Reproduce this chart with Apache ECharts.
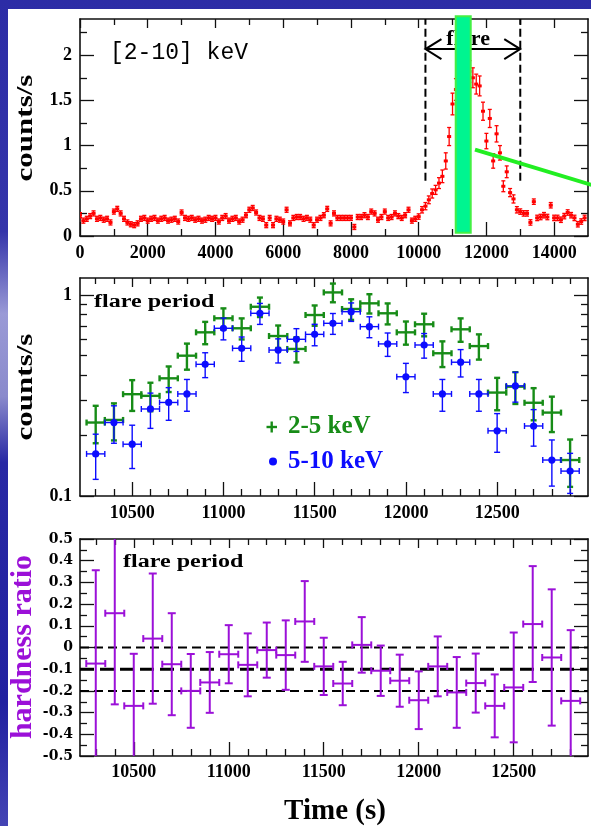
<!DOCTYPE html>
<html><head><meta charset="utf-8">
<script src="https://cdn.jsdelivr.net/npm/echarts@6/dist/echarts.min.js"></script>
<style>
html,body{margin:0;padding:0;background:#fff;}
#wrap{position:relative;width:591px;height:826px;overflow:hidden;
 background:linear-gradient(to bottom,#2c2ca6 0%,#3434aa 28%,#9a9ad6 38%,#8a8acc 48%,#2828a4 56%,#2020a0 85%,#4444b4 100%);}
#white{position:absolute;left:8px;top:9px;right:0;bottom:0;background:#fff;}
#chart{position:absolute;left:0;top:0;width:591px;height:826px;}
</style></head><body>
<div id="wrap"><div id="white"></div><div id="chart"></div></div>
<script>
// ---------------- DATA ----------------
// Panel 1: [2-10] keV light curve (100 s bins)
const lcTime = [
 0,100,200,300,400,500,600,700,800,900,
 1000,1100,1200,1300,1400,1500,1600,1700,1800,1900,
 2000,2100,2200,2300,2400,2500,2600,2700,2800,2900,
 3000,3100,3200,3300,3400,3500,3600,3700,3800,3900,
 4000,4100,4200,4300,4400,4500,4600,4700,4800,4900,
 5000,5100,5200,5300,5400,5500,5600,5700,5800,5900,
 6000,6100,6200,6300,6400,6500,6600,6700,6800,6900,
 7000,7100,7200,7300,7400,7500,7600,7700,7800,7900,
 8000,8100,8200,8300,8400,8500,8600,8700,8800,8900,
 9000,9100,9200,9300,9400,9500,9600,9700,9800,9900,
 10000,10100,10200,10300,10400,10500,10600,10700,10800,10900,
 11000,11100,11200,11300,11400,11500,11600,11700,11800,11900,
 12000,12100,12200,12300,12400,12500,12600,12700,12800,12900,
 13000,13100,13200,13300,13400,13500,13600,13700,13800,13900,
 14000,14100,14200,14300,14400,14500,14600,14700,14800,14900];
const lcRate = [
 0.23,0.17,0.19,0.22,0.25,0.19,0.20,0.18,0.19,0.15,
 0.27,0.30,0.25,0.19,0.15,0.13,0.12,0.14,0.19,0.20,
 0.17,0.19,0.20,0.17,0.19,0.20,0.17,0.18,0.19,0.16,
 0.26,0.20,0.19,0.20,0.18,0.19,0.17,0.18,0.20,0.19,
 0.20,0.16,0.20,0.22,0.17,0.19,0.20,0.16,0.18,0.23,
 0.29,0.31,0.26,0.20,0.19,0.12,0.20,0.12,0.19,0.18,
 0.16,0.29,0.14,0.20,0.21,0.21,0.19,0.20,0.18,0.12,
 0.18,0.20,0.23,0.30,0.14,0.25,0.20,0.20,0.20,0.20,
 0.20,0.10,0.21,0.21,0.23,0.21,0.27,0.25,0.18,0.21,
 0.27,0.20,0.21,0.25,0.22,0.20,0.23,0.29,0.17,0.19,
 0.215,0.29,0.33,0.40,0.47,0.51,0.585,0.66,0.83,1.10,
 1.46,1.62,1.78,1.88,1.90,1.82,1.75,1.68,1.66,1.38,
 1.05,1.30,0.83,1.13,0.92,0.55,0.71,0.48,0.41,0.29,
 0.27,0.25,0.25,0.15,0.38,0.20,0.21,0.23,0.21,0.34,
 0.20,0.20,0.18,0.22,0.26,0.23,0.20,0.13,0.16,0.20];
const lcErr = [
 0.028,0.028,0.028,0.028,0.028,0.028,0.028,0.028,0.028,0.028,
 0.028,0.028,0.028,0.028,0.028,0.028,0.028,0.028,0.028,0.028,
 0.028,0.028,0.028,0.028,0.028,0.028,0.028,0.028,0.028,0.028,
 0.028,0.028,0.028,0.028,0.028,0.028,0.028,0.028,0.028,0.028,
 0.028,0.028,0.028,0.028,0.028,0.028,0.028,0.028,0.028,0.028,
 0.028,0.028,0.028,0.028,0.028,0.028,0.028,0.028,0.028,0.028,
 0.028,0.028,0.028,0.028,0.028,0.028,0.028,0.028,0.028,0.028,
 0.028,0.028,0.028,0.028,0.028,0.028,0.028,0.028,0.028,0.028,
 0.028,0.028,0.028,0.028,0.028,0.028,0.028,0.028,0.028,0.028,
 0.028,0.028,0.028,0.028,0.028,0.028,0.028,0.028,0.028,0.028,
 0.03,0.035,0.04,0.043,0.05,0.05,0.06,0.07,0.09,0.10,
 0.12,0.12,0.12,0.12,0.12,0.12,0.11,0.11,0.11,0.10,
 0.085,0.10,0.08,0.09,0.08,0.06,0.065,0.045,0.045,0.035,
 0.03,0.03,0.03,0.03,0.03,0.03,0.03,0.03,0.03,0.03,
 0.03,0.03,0.03,0.03,0.03,0.03,0.03,0.03,0.03,0.03];
const lcHalfBin = 50;

// Panel 1 annotations (data units)
const flareBounds = [10200, 13000];      // dashed lines
const flareLineBottom = 0.61;            // lower end of dashed lines
const flareArrowY = 2.067;
const flareLabelX = 11460;
const greenBand = [11094, 11537, 0.037, 2.43];   // t0, t1, y0, y1
const greenLine = [11664, 0.956, 15200, 0.554];  // t0, y0, t1, y1

// Panel 2: flare period, two bands (100 s bins)
const flareTime = [10300,10400,10500,10600,10700,10800,10900,11000,11100,11200,11300,11400,11500,11600,
 11700,11800,11900,12000,12100,12200,12300,12400,12500,12600,12700,12800,12900];
const soft25 = [0.232,0.239,0.321,0.315,0.385,0.499,0.652,0.766,0.683,0.874,0.625,0.539,0.795,1.03,
 0.852,0.909,0.811,0.652,0.715,0.513,0.675,0.557,0.327,0.350,0.291,0.260,0.151];
const soft25Err = [0.049,0.05,0.056,0.051,0.056,0.074,0.083,0.092,0.082,0.097,0.08,0.077,0.092,0.11,
 0.10,0.10,0.097,0.086,0.092,0.075,0.09,0.08,0.06,0.063,0.053,0.052,0.04];
const hard510 = [0.162,0.232,0.181,0.271,0.292,0.322,0.452,0.683,0.543,0.811,0.532,0.602,0.637,0.723,
 0.826,0.696,0.571,0.392,0.564,0.322,0.463,0.322,0.211,0.353,0.223,0.151,0.133];
const hard510Err = [0.041,0.049,0.044,0.054,0.054,0.058,0.064,0.085,0.075,0.097,0.073,0.078,0.078,0.086,
 0.087,0.083,0.076,0.065,0.079,0.058,0.072,0.058,0.046,0.06,0.046,0.039,0.03];

// Panel 3: hardness ratio
const hrTime = [10300,10400,10500,10600,10700,10800,10900,11000,11100,11200,11300,11400,11500,11600,
 11700,11800,11900,12000,12100,12200,12300,12400,12500,12600,12700,12800];
const hrVal = [-0.074,0.158,-0.269,0.041,-0.077,-0.20,-0.161,-0.031,-0.08,-0.012,-0.035,0.12,-0.087,-0.166,
 0.012,-0.107,-0.153,-0.243,-0.087,-0.207,-0.164,-0.269,-0.184,0.108,-0.046,-0.246];
const hrErr = [0.43,0.42,0.24,0.30,0.235,0.17,0.14,0.134,0.145,0.127,0.16,0.186,0.132,0.10,
 0.128,0.116,0.12,0.133,0.138,0.163,0.136,0.145,0.253,0.267,0.314,0.326];
const hrRefLines = [0, -0.1, -0.2];

// Ticks
const p1XMajor = [0,2000,4000,6000,8000,10000,12000,14000];
const p1XMinor = [1000,3000,5000,7000,9000,11000,13000];
const p1YMajor = [0,0.5,1,1.5,2];
const p1YMinor = [0.25,0.75,1.25,1.75,2.25];
const fXMajor = [10500,11000,11500,12000,12500];
const p2XMinor = [10300,10400,10600,10700,10800,10900,11100,11200,11300,11400,11600,11700,11800,11900,
 12100,12200,12300,12400,12600,12700,12800,12900];
const p3XMinor = [10300,10400,10600,10700,10800,10900,11100,11200,11300,11400,11600,11700,11800,11900,
 12100,12200,12300,12400,12600,12700,12800];
const p2YMajor = [0.1, 1];
const p2YMinor = [0.2,0.3,0.4,0.5,0.6,0.7,0.8,0.9];
const p3YMajor = [-0.5,-0.4,-0.3,-0.2,-0.1,0,0.1,0.2,0.3,0.4,0.5];
const p3YMinor = [-0.45,-0.35,-0.25,-0.15,-0.05,0.05,0.15,0.25,0.35,0.45];

// ---------------- CHART ----------------
const chart = echarts.init(document.getElementById('chart'), null, {renderer:'canvas', width:591, height:826});
const AX = '#111';
const SERIF = '"Liberation Serif","Times New Roman",serif';
const fmt = v => String(Math.round(v*100)/100);

function mkAxis(grid, pos, type, min, max, ticks, len, showLine, label) {
  const a = {gridIndex:grid, type, position:pos, min, max, silent:true,
    axisLine:{show:showLine, onZero:false, lineStyle:{color:AX, width:1.6}},
    axisTick:{show:true, inside:true, length:len, customValues:ticks, lineStyle:{color:AX, width:1.3}},
    axisLabel: label ? Object.assign({show:true, customValues:ticks, formatter:fmt, color:'#000'}, label) : {show:false},
    splitLine:{show:false}, minorTick:{show:false}, minorSplitLine:{show:false}, axisPointer:{show:false}};
  if (type === 'log') a.logBase = 10;
  return a;
}
const xLab = {margin:8, fontFamily:SERIF, fontWeight:'bold', fontSize:18};
const x3Lab = {margin:7, fontFamily:SERIF, fontWeight:'bold', fontSize:18};
const yLab = {margin:8, fontFamily:SERIF, fontWeight:'bold', fontSize:18};
const y3Lab = {margin:7, fontFamily:'"DejaVu Serif",serif', fontWeight:'bold', fontSize:14};

const P = [
  {xmin:0, xmax:15000, xMaj:p1XMajor, xMin:p1XMinor, xl:xLab, ytype:'value', ymin:0, ymax:2.4, yMaj:p1YMajor, yMin:p1YMinor, yl:yLab},
  {xmin:10214, xmax:12998, xMaj:fXMajor, xMin:p2XMinor, xl:xLab, ytype:'log', ymin:0.1, ymax:1.215, yMaj:p2YMajor, yMin:p2YMinor, yl:yLab},
  {xmin:10217, xmax:12891, xMaj:fXMajor, xMin:p3XMinor, xl:x3Lab, ytype:'value', ymin:-0.5, ymax:0.5, yMaj:p3YMajor, yMin:p3YMinor, yl:y3Lab}
];
const xAxes = [], yAxes = [];
P.forEach((p, g) => {
  xAxes.push(mkAxis(g,'bottom','value',p.xmin,p.xmax,p.xMaj,14,true,p.xl));
  xAxes.push(mkAxis(g,'bottom','value',p.xmin,p.xmax,p.xMin,7,false));
  xAxes.push(mkAxis(g,'top','value',p.xmin,p.xmax,p.xMaj,9,true));
  xAxes.push(mkAxis(g,'top','value',p.xmin,p.xmax,p.xMin,6,false));
  yAxes.push(mkAxis(g,'left',p.ytype,p.ymin,p.ymax,p.yMaj,14,true,p.yl));
  yAxes.push(mkAxis(g,'left',p.ytype,p.ymin,p.ymax,p.yMin,7,false));
  yAxes.push(mkAxis(g,'right',p.ytype,p.ymin,p.ymax,p.yMaj,14,true));
  yAxes.push(mkAxis(g,'right',p.ytype,p.ymin,p.ymax,p.yMin,7,false));
});

function errRender(o) {
  return function (params, api) {
    const x = api.value(0), y = api.value(1), xe = api.value(2), ye = api.value(3);
    const c = api.coord([x, y]);
    const l = api.coord([x - xe, y]), r = api.coord([x + xe, y]);
    const t = api.coord([x, y + ye]), b = api.coord([x, y - ye]);
    const st = {stroke:o.color, lineWidth:o.lw, fill:null};
    const ch = [
      {type:'line', shape:{x1:l[0], y1:c[1], x2:r[0], y2:c[1]}, style:st},
      {type:'line', shape:{x1:c[0], y1:t[1], x2:c[0], y2:b[1]}, style:st}
    ];
    if (o.cap) {
      ch.push({type:'line', shape:{x1:c[0]-o.cap, y1:t[1], x2:c[0]+o.cap, y2:t[1]}, style:st});
      ch.push({type:'line', shape:{x1:c[0]-o.cap, y1:b[1], x2:c[0]+o.cap, y2:b[1]}, style:st});
    }
    if (o.hcap) {
      ch.push({type:'line', shape:{x1:l[0], y1:c[1]-o.hcap, x2:l[0], y2:c[1]+o.hcap}, style:st});
      ch.push({type:'line', shape:{x1:r[0], y1:c[1]-o.hcap, x2:r[0], y2:c[1]+o.hcap}, style:st});
    }
    if (o.dot) ch.push({type:'circle', shape:{cx:c[0], cy:c[1], r:o.dot}, style:{fill:o.color}});
    if (o.sqw) ch.push({type:'rect', shape:{x:c[0]-o.sqw/2, y:c[1]-o.sqh/2, width:o.sqw, height:o.sqh}, style:{fill:o.color}});
    return {type:'group', children:ch};
  };
}

const series = [
  {type:'custom', name:'2-10 keV', xAxisIndex:0, yAxisIndex:0, clip:true, z:2,
   data: lcTime.map((t,i)=>[t, lcRate[i], lcHalfBin, lcErr[i]]),
   renderItem: errRender({color:'#ff0000', lw:1.3, cap:2, sqw:4, sqh:3})},
  {type:'custom', name:'flare bounds', xAxisIndex:0, yAxisIndex:0, clip:false, z:3,
   data: flareBounds.map(t=>[t, flareLineBottom]),
   renderItem: (params, api) => {
     const p = api.coord([api.value(0), api.value(1)]);
     const top = params.coordSys.y;
     return {type:'line', shape:{x1:p[0], y1:p[1], x2:p[0], y2:top},
       style:{stroke:'#000', lineWidth:2, lineDash:[8,4]}};
   }},
  {type:'custom', name:'flare arrow', xAxisIndex:0, yAxisIndex:0, clip:false, z:3,
   data: [[flareBounds[0], flareBounds[1], flareArrowY, flareLabelX]],
   renderItem: (params, api) => {
     const a = api.coord([api.value(0), api.value(2)]);
     const b = api.coord([api.value(1), api.value(2)]);
     const lx = api.coord([api.value(3), api.value(2)])[0];
     const st = {stroke:'#000', lineWidth:2, fill:null};
     return {type:'group', children:[
       {type:'line', shape:{x1:a[0], y1:a[1], x2:b[0], y2:b[1]}, style:st},
       {type:'polyline', shape:{points:[[a[0]+16,a[1]-10],[a[0],a[1]],[a[0]+16,a[1]+10]]}, style:st},
       {type:'polyline', shape:{points:[[b[0]-16,b[1]-10],[b[0],b[1]],[b[0]-16,b[1]+10]]}, style:st},
       {type:'text', style:{text:'flare', x:lx, y:a[1]+1, font:'bold 22px '+SERIF, fill:'#000',
         textAlign:'center', textVerticalAlign:'bottom', align:'center', verticalAlign:'bottom'}}
     ]};
   }},
  {type:'custom', name:'band', xAxisIndex:0, yAxisIndex:0, clip:false, z:5,
   data: [greenBand],
   renderItem: (params, api) => {
     const p0 = api.coord([api.value(0), api.value(3)]);
     const p1 = api.coord([api.value(1), api.value(2)]);
     return {type:'rect', shape:{x:p0[0], y:p0[1], width:p1[0]-p0[0], height:p1[1]-p0[1]},
       style:{fill:'#00f590', stroke:'#44f044', lineWidth:2}};
   }},
  {type:'custom', name:'green line', xAxisIndex:0, yAxisIndex:0, clip:false, z:6,
   data: [greenLine],
   renderItem: (params, api) => {
     const p0 = api.coord([api.value(0), api.value(1)]);
     const p1 = api.coord([api.value(2), api.value(3)]);
     return {type:'line', shape:{x1:p0[0], y1:p0[1], x2:p1[0], y2:p1[1]},
       style:{stroke:'#22ee22', lineWidth:4}};
   }},
  {type:'custom', name:'2-5 keV', xAxisIndex:4, yAxisIndex:4, clip:true, z:3,
   data: flareTime.map((t,i)=>[t, soft25[i], 50, soft25Err[i]]),
   renderItem: errRender({color:'#178c17', lw:2.4, cap:3, hcap:3})},
  {type:'custom', name:'5-10 keV', xAxisIndex:4, yAxisIndex:4, clip:true, z:4,
   data: flareTime.map((t,i)=>[t, hard510[i], 50, hard510Err[i]]),
   renderItem: errRender({color:'#0c0cff', lw:1.4, cap:3, hcap:3, dot:3.6})},
  {type:'custom', name:'ref lines', xAxisIndex:8, yAxisIndex:8, clip:true, z:2,
   data: hrRefLines.map(v=>[v]),
   renderItem: (params, api) => {
     const v = api.value(0);
     const y = api.coord([12000, v])[1];
     const cs = params.coordSys;
     const thick = Math.abs(v + 0.1) < 1e-6;
     return {type:'line', shape:{x1:cs.x, y1:y, x2:cs.x+cs.width, y2:y},
       style:{stroke:'#000', lineWidth: thick ? 3 : 2, lineDash: thick ? [14,6] : [9,5]}};
   }},
  {type:'custom', name:'hardness', xAxisIndex:8, yAxisIndex:8, clip:true, z:3,
   data: hrTime.map((t,i)=>[t, hrVal[i], 50, hrErr[i]]),
   renderItem: errRender({color:'#9b10d8', lw:2, cap:4, hcap:3.5})}
];

function txt(x, y, text, font, fill, extra) {
  return Object.assign({type:'text', x, y, silent:true,
    style:{text, font, fill, textAlign:'left', textVerticalAlign:'top', align:'left', verticalAlign:'top'}}, extra || {});
}
function ctxt(x, y, text, font, fill, extra) {
  return Object.assign({type:'text', x, y, silent:true,
    style:{text, font, fill, textAlign:'center', textVerticalAlign:'middle', align:'center', verticalAlign:'middle'}}, extra || {});
}
const graphic = [
  txt(110, 41, '[2-10] keV', '23px "Liberation Mono",monospace', '#000'),
  txt(94, 293, 'flare period', 'bold 18.5px '+SERIF, '#000', {scaleX:1.3}),
  txt(123, 553, 'flare period', 'bold 18.5px '+SERIF, '#000', {scaleX:1.3}),
  ctxt(26, 128, 'counts/s', 'bold 31px '+SERIF, '#000', {rotation:Math.PI/2, scaleY:0.72}),
  ctxt(26, 387, 'counts/s', 'bold 31px '+SERIF, '#000', {rotation:Math.PI/2, scaleY:0.72}),
  ctxt(23, 647, 'hardness ratio', 'bold 30px '+SERIF, '#9b10d8', {rotation:Math.PI/2}),
  ctxt(335, 812, 'Time (s)', 'bold 29px '+SERIF, '#000'),
  {type:'line', silent:true, shape:{x1:266.5, y1:427, x2:277, y2:427}, style:{stroke:'#178c17', lineWidth:2.4}},
  {type:'line', silent:true, shape:{x1:271.7, y1:421.5, x2:271.7, y2:432.5}, style:{stroke:'#178c17', lineWidth:2.4}},
  {type:'circle', silent:true, shape:{cx:273, cy:461.5, r:4}, style:{fill:'#0c0cff'}},
  txt(288, 414, '2-5 keV', 'bold 25px '+SERIF, '#178c17'),
  txt(288, 449, '5-10 keV', 'bold 25px '+SERIF, '#0c0cff')
];

chart.setOption({
  animation:false,
  backgroundColor:'transparent',
  grid:[
    {left:80, top:19, width:508, height:217, outerBoundsMode:'none'},
    {left:80, top:278, width:508, height:218, outerBoundsMode:'none'},
    {left:80, top:539, width:508, height:217, outerBoundsMode:'none'}
  ],
  xAxis:xAxes, yAxis:yAxes, series, graphic
});
</script></body></html>
